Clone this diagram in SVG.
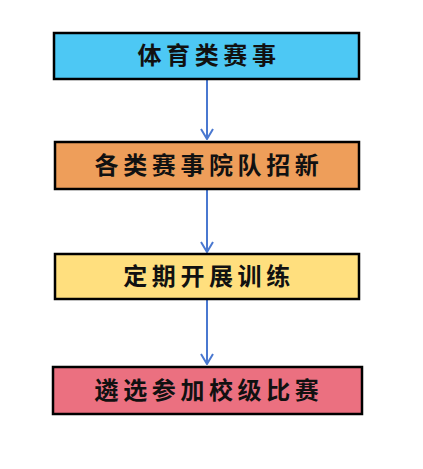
<svg xmlns="http://www.w3.org/2000/svg" width="423" height="469" viewBox="0 0 423 469">
<style>
.box{stroke:#000;stroke-width:2.5}
.t{font-family:"Noto Sans CJK SC","Noto Sans",sans-serif;font-weight:bold;font-size:24px;letter-spacing:4.6px;text-anchor:middle;fill:#111}
.c{stroke:#4A78D0;stroke-width:2;fill:none}
</style>
<defs>
<marker id="ah" markerWidth="12" markerHeight="14" refX="11" refY="7" orient="auto" markerUnits="userSpaceOnUse" viewBox="0 0 12 14">
<path d="M1,1 L11,7 L1,13" fill="none" stroke="#4A78D0" stroke-width="2"/>
</marker>
</defs>
<rect width="423" height="469" fill="#fff"/>
<g id="connectors">
<line class="c" x1="207" y1="80" x2="207" y2="139" marker-end="url(#ah)"/>
<line class="c" x1="207" y1="190" x2="207" y2="252" marker-end="url(#ah)"/>
<line class="c" x1="207" y1="300" x2="207" y2="364" marker-end="url(#ah)"/>
</g>
<g id="n1">
<rect class="box" x="54" y="33" width="305" height="46" fill="#4DC8F4"/>
<text class="t" x="209" y="64">体育类赛事</text>
</g>
<g id="n2">
<rect class="box" x="55" y="142" width="304" height="47" fill="#EE9E5A"/>
<text class="t" x="209" y="174">各类赛事院队招新</text>
</g>
<g id="n3">
<rect class="box" x="55" y="254" width="304" height="45" fill="#FFDF7E"/>
<text class="t" x="209" y="285">定期开展训练</text>
</g>
<g id="n4">
<rect class="box" x="53" y="367" width="309" height="47" fill="#EB7080"/>
<text class="t" x="209" y="399">遴选参加校级比赛</text>
</g>
</svg>
